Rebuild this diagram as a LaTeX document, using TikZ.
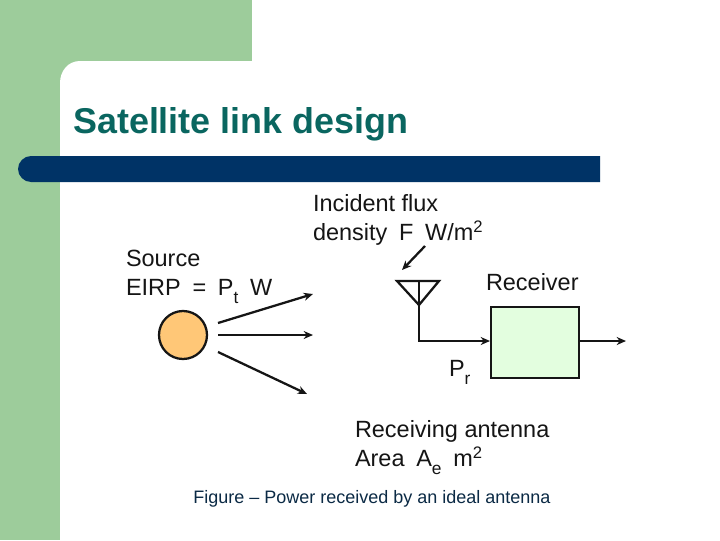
\documentclass[tikz,border=0pt]{standalone}
\usepackage{fontspec}
\setmainfont{Liberation Sans}
\usetikzlibrary{arrows.meta}
\definecolor{bggreen}{HTML}{9DCC9B}
\definecolor{barblue}{HTML}{003366}
\definecolor{titleteal}{HTML}{0A6660}
\definecolor{capblue}{HTML}{0B2A45}
\definecolor{srcfill}{HTML}{FFC777}
\definecolor{rxfill}{HTML}{E3FEDF}
\definecolor{ink}{HTML}{151515}
\newcommand{\subsc}[1]{\raisebox{-0.36em}{\fontsize{13}{13}\selectfont #1}}
\newcommand{\supsc}[1]{\raisebox{0.34em}{\fontsize{12.5}{12.5}\selectfont #1}}
\newcommand{\gap}{\hspace{0.5em}}
\tikzset{
  lab/.style={anchor=base west,inner sep=0pt,outer sep=0pt,text=ink,font=\fontsize{17.6}{17.6}\selectfont},
  wire/.style={draw=ink,line width=1.7pt},
  ray/.style={wire,-{Stealth[length=7pt,width=6pt]}}
}
\begin{document}
\begin{tikzpicture}[x=0.75pt,y=-0.75pt]
\useasboundingbox (0,0) rectangle (720,540);
\fill[white] (0,0) rectangle (720,540);
\fill[bggreen] (0,0) rectangle (252,61);
\fill[bggreen] (0,0) rectangle (60,540);
\fill[bggreen] (60,61) rectangle (90,90);
\fill[white] (60,540) -- (60,83) .. controls (60,71) and (68,61) .. (80,61) -- (252,61) -- (252,540) -- cycle;
\fill[barblue] (600,182) -- (31,182) .. controls (24,182) and (18,176) .. (18,169) .. controls (18,162) and (24,156) .. (31,156) -- (600,156) -- cycle;
\node[anchor=base west,inner sep=0pt,text=titleteal,font=\fontsize{26.9}{26.9}\selectfont\bfseries] (title) at (73,133) {Satellite link design};

\node[lab] (src1) at (126,266) {Source};
\node[lab] (src2) at (126,295) {EIRP\gap=\gap P\subsc{t}\gap W};
\node[draw=ink,line width=1.7pt,fill=srcfill,circle,minimum size=36pt,inner sep=0pt] (src) at (183,335) {};
\coordinate (r1a) at (218,323); \coordinate (r1b) at (313,294);
\coordinate (r2a) at (218,335); \coordinate (r2b) at (313,335);
\coordinate (r3a) at (218,352); \coordinate (r3b) at (307,394);
\draw[ray] (r1a) -- (r1b);
\draw[ray] (r2a) -- (r2b);
\draw[ray] (r3a) -- (r3b);

\node[lab] (inc1) at (313,211) {Incident flux};
\node[lab] (inc2) at (313,240) {density\gap F\gap W/m\supsc{2}};
\coordinate (fa) at (425,246); \coordinate (fb) at (402,270);
\draw[wire,-{Stealth[length=7pt,width=6pt]}] (fa) -- (fb);

\coordinate (al) at (397,281); \coordinate (ar) at (439,281); \coordinate (at) at (419,281); \coordinate (ab) at (419,305);
\coordinate (ac) at (419,341);
\draw[wire,line join=miter] (al) -- (ar) -- (ab) -- cycle;
\draw[wire] (at) -- (ab);

\node[lab] (rxl) at (486,290) {Receiver};
\node[draw=ink,line width=1.7pt,fill=rxfill,minimum width=66pt,minimum height=53pt,inner sep=0pt,anchor=north west] (rx) at (490,306) {};
\coordinate (out) at (626,341);
\draw[ray,line join=miter] (ab) -- (ac) -- (rx.west |- ac);
\draw[ray] (rx.east |- out) -- (out);
\node[lab] (pr) at (449,376) {P\subsc{r}};

\node[lab] (ant1) at (355,437) {Receiving antenna};
\node[lab] (ant2) at (355,466) {Area\gap A\subsc{e}\gap m\supsc{2}};
\node[anchor=base west,inner sep=0pt,text=capblue,font=\fontsize{13.5}{13.5}\selectfont] (cap) at (193,503) {Figure – Power received by an ideal antenna};
\end{tikzpicture}
\end{document}
